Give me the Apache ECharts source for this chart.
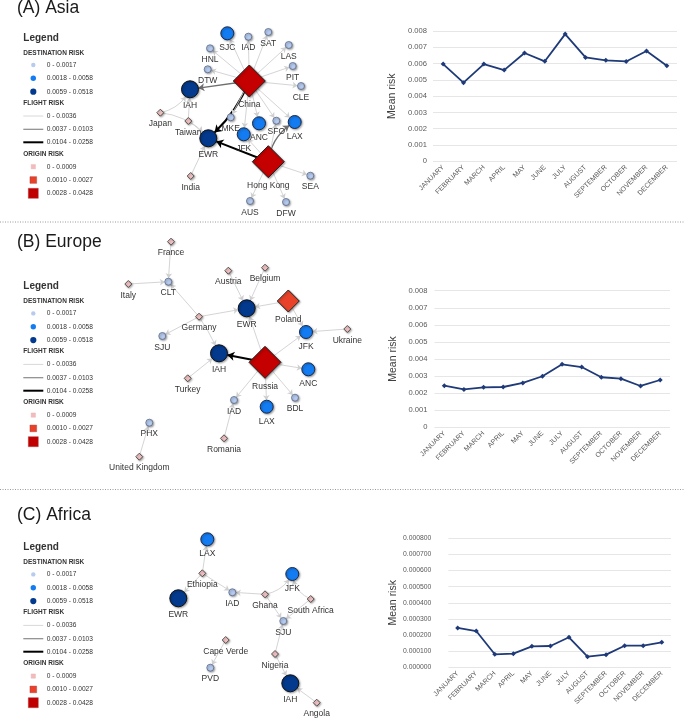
<!DOCTYPE html>
<html>
<head>
<meta charset="utf-8">
<script src="https://cdn.jsdelivr.net/npm/echarts@6/dist/echarts.min.js"></script>
<style>html,body{margin:0;padding:0;background:#fff}#c{width:685px;height:719px}</style>
</head>
<body>
<div id="c"></div>
<script>
// ---------- data ----------
const months = ['JANUARY','FEBRUARY','MARCH','APRIL','MAY','JUNE','JULY','AUGUST','SEPTEMBER','OCTOBER','NOVEMBER','DECEMBER'];
const asiaMeanRisk   = [0.00597,0.00483,0.00597,0.00560,0.00665,0.00614,0.00781,0.00638,0.00620,0.00613,0.00677,0.00587];
const europeMeanRisk = [0.00244,0.00222,0.00234,0.00236,0.00260,0.00299,0.00369,0.00353,0.00293,0.00285,0.00242,0.00277];
const africaMeanRisk = [0.000244,0.000225,0.0000806,0.0000847,0.000130,0.000132,0.000186,0.000066,0.0000785,0.000134,0.000134,0.000155];

const panelTitles = ['(A) Asia','(B) Europe','(C) Africa'];
const destRiskLabels   = ['0 - 0.0017','0.0018 - 0.0058','0.0059 - 0.0518'];
const flightRiskLabels = ['0 - 0.0036','0.0037 - 0.0103','0.0104 - 0.0258'];
const originRiskLabels = ['0 - 0.0009','0.0010 - 0.0027','0.0028 - 0.0428'];

// network nodes: [name, risk class (d = destination, o = origin; 0..2), layout x, layout y]
const asiaNodes = [
  ['China','o2',109.3,61],['Hong Kong','o2',128.3,141.7],['SJC','d1',87.3,13.3],['IAD','d0',108.3,16.7],
  ['SAT','d0',128.3,12],['HNL','d0',70,28.3],['LAS','d0',148.7,25],['DTW','d0',67.7,49.3],
  ['PIT','d0',152.7,46],['CLE','d0',161,66],['IAH','d2',50,69.3],['Japan','o0',20.3,92.7],
  ['Taiwan','o0',48.3,101],['MKE','d0',90.7,97.3],['ANC','d1',119,103.3],['SFO','d0',136.3,100.7],
  ['LAX','d1',154.7,102],['JFK','d1',103.7,114.3],['EWR','d2',68.3,118.3],['India','o0',50.7,156],
  ['SEA','d0',170.3,155.7],['AUS','d0',110,181],['DFW','d0',146,182]
];
// links: [source, target, flight risk class]
const asiaLinks = [
  ['China','SJC',0],['China','IAD',0],['China','SAT',0],['China','HNL',0],['China','LAS',0],['China','DTW',0],
  ['China','PIT',0],['China','CLE',0],['China','IAH',1],['China','EWR',2],['China','MKE',0],['China','JFK',0],
  ['China','ANC',0],['China','SFO',0],['China','LAX',0],
  ['Hong Kong','EWR',2],['Hong Kong','LAX',1],['Hong Kong','SEA',0],['Hong Kong','AUS',0],['Hong Kong','DFW',0],
  ['Hong Kong','SFO',0],['Hong Kong','JFK',0],
  ['Japan','IAH',0],['Japan','EWR',0],['Taiwan','IAH',0],['Taiwan','EWR',0],['India','EWR',0]
];

const europeNodes = [
  ['France','o0',61,11.7],['Italy','o0',18.3,54],['CLT','d0',58.3,51.7],['Austria','o0',118.3,40.7],
  ['Belgium','o0',155,37.7],['EWR','d2',136.7,78.3],['Poland','o1',178.3,71],['Germany','o0',89,86.7],
  ['SJU','d0',52.3,106],['JFK','d1',196,102],['Ukraine','o0',237.3,99],['IAH','d2',109,123.3],
  ['Russia','o2',155,132.3],['ANC','d1',198.3,139.3],['Turkey','o0',77.7,148.3],['IAD','d0',124,170],
  ['LAX','d1',156.7,176.7],['BDL','d0',185,167.7],['PHX','d0',39.3,192.7],['Romania','o0',114,208.3],
  ['United Kingdom','o0',29.3,226.7]
];
const europeLinks = [
  ['France','CLT',0],['Italy','CLT',0],['Germany','CLT',0],['Germany','EWR',0],['Germany','SJU',0],['Germany','IAH',0],
  ['Austria','EWR',0],['Belgium','EWR',0],['Poland','EWR',0],['Poland','JFK',0],['Ukraine','JFK',0],
  ['Russia','EWR',0],['Russia','JFK',0],['Russia','IAH',2],['Russia','ANC',0],['Russia','IAD',0],['Russia','LAX',0],
  ['Russia','BDL',0],['Turkey','IAH',0],['Romania','IAD',0],['United Kingdom','PHX',0]
];

const africaNodes = [
  ['LAX','d1',47.3,9.3],['Ethiopia','o0',42.3,43.3],['EWR','d2',18.3,68.3],['IAD','d0',72.3,62.3],
  ['JFK','d1',132.3,44],['Ghana','o0',105,64.3],['South Africa','o0',150.7,69],['SJU','d0',123.3,91],
  ['Cape Verde','o0',65.7,110],['Nigeria','o0',115,124],['PVD','d0',50.3,137.7],['IAH','d2',130.3,153.3],
  ['Angola','o0',156.7,172.7]
];
const africaLinks = [
  ['Ethiopia','LAX',0],['Ethiopia','EWR',0],['Ethiopia','IAD',0],['Ghana','IAD',0],['Ghana','JFK',0],['Ghana','SJU',0],
  ['South Africa','JFK',0],['South Africa','SJU',0],['Nigeria','SJU',0],['Nigeria','IAH',0],['Angola','IAH',0],
  ['Cape Verde','PVD',0]
];

// ---------- styles ----------
const nodeStyle = {
  d0:{symbol:'circle', size:7,  color:'#b7cbef', border:'#5b6a88'},
  d1:{symbol:'circle', size:13, color:'#137cf2', border:'#1b2a4a'},
  d2:{symbol:'circle', size:17, color:'#033a8e', border:'#111'},
  o0:{symbol:'diamond',size:7,  color:'#f3c3c3', border:'#333'},
  o1:{symbol:'diamond',size:22, color:'#e8432a', border:'#222'},
  o2:{symbol:'diamond',size:32, color:'#c40000', border:'#222'}
};
const edgeStyle = [
  {color:'#cfcfcf', width:0.9, arrow:5},
  {color:'#6e6e6e', width:1.4, arrow:6},
  {color:'#000000', width:2.0, arrow:7}
];
const curved = {'China>EWR':0.12,'Hong Kong>LAX':0.25,'Japan>IAH':-0.25,'Japan>EWR':0.2,'Taiwan>EWR':0.1,
                'Ghana>JFK':-0.25,'South Africa>JFK':0.3,'Germany>IAH':0.05};

// panels: network box (left, top, width, height), line grid
const netBoxes = [[140,20,190,200],[110,230,250,240],[160,530,170,189]];
const lineGrids = [
  {left:433,right:8,top:31,height:130.3,max:0.008,interval:0.001,dec:3,gap:35,margin:6},
  {left:434.5,right:15,top:290.7,height:136.6,max:0.008,interval:0.001,dec:3,gap:36,margin:7},
  {left:448.4,right:14,top:538.3,height:129,max:0.0008,interval:0.0001,dec:6,gap:50,margin:17}
];
const titleY = [8,242,515];
const legendDy = [0,248.4,509.4];

const grids=[], xAxes=[], yAxes=[], series=[], graphics=[];

function graphSeries(nodes, links, gi){
  return {
    type:'graph', coordinateSystem:'cartesian2d', xAxisIndex:gi, yAxisIndex:gi,
    animation:false, silent:true, z:3,
    edgeSymbol:['none','arrow'],
    label:{show:true, position:'bottom', distance:3, fontSize:8.5, color:'#333', fontFamily:'Liberation Sans, Arial, sans-serif'},
    emphasis:{disabled:true},
    data: nodes.map(n=>{
      const s=nodeStyle[n[1]];
      return {name:n[0], value:[n[2],n[3]], symbol:s.symbol, symbolSize:s.size,
        itemStyle:{color:s.color, borderColor:s.border, borderWidth:s.size>10?1:0.8,
          shadowBlur:2, shadowOffsetX:1, shadowOffsetY:1, shadowColor:'rgba(0,0,0,0.35)'}};
    }),
    links: links.map(l=>{
      const e=edgeStyle[l[2]];
      return {source:l[0], target:l[1], symbolSize:[0,e.arrow],
        lineStyle:{color:e.color, width:e.width, opacity:1, curveness:curved[l[0]+'>'+l[1]]||0}};
    })
  };
}

const nets=[[asiaNodes,asiaLinks],[europeNodes,europeLinks],[africaNodes,africaLinks]];
const risks=[asiaMeanRisk,europeMeanRisk,africaMeanRisk];

for(let p=0;p<3;p++){
  const b=netBoxes[p];
  grids.push({left:b[0], top:b[1], width:b[2], height:b[3], containLabel:false});
  xAxes.push({type:'value', gridIndex:2*p, min:0, max:b[2], show:false});
  yAxes.push({type:'value', gridIndex:2*p, min:0, max:b[3], inverse:true, show:false});
  series.push(graphSeries(nets[p][0], nets[p][1], 2*p));

  const g=lineGrids[p];
  grids.push({left:g.left, right:g.right, top:g.top, height:g.height});
  xAxes.push({type:'category', gridIndex:2*p+1, data:months, boundaryGap:true,
    axisLine:{show:false}, axisTick:{show:false},
    axisLabel:{interval:0, rotate:45, fontSize:7, color:'#595959', margin:5, fontFamily:'Liberation Sans, Arial, sans-serif'}});
  yAxes.push({type:'value', gridIndex:2*p+1, min:0, max:g.max, interval:g.interval,
    axisLine:{show:false}, axisTick:{show:false},
    splitLine:{lineStyle:{color:'#e6e6e6', width:1}},
    axisLabel:{fontSize: p===2?6.8:7.6, color:'#595959', margin:g.margin,
      formatter:(v)=> (p<2 && v===0) ? '0' : v.toFixed(g.dec)},
    name:'Mean risk', nameLocation:'middle', nameGap:g.gap,
    nameTextStyle:{fontSize:10.5, color:'#404040', fontFamily:'Liberation Sans Narrow, Liberation Sans, Arial, sans-serif'}});
  series.push({type:'line', xAxisIndex:2*p+1, yAxisIndex:2*p+1, data:risks[p],
    symbol:'diamond', symbolSize:5, showSymbol:true, animation:false, silent:true,
    lineStyle:{color:'#1f3a78', width:1.8}, itemStyle:{color:'#1f3a78'}});

  // title
  graphics.push({type:'text', x:17, y:titleY[p], style:{text:panelTitles[p], fill:'#1a1a1a', fontSize:17.5,
    fontFamily:'Liberation Sans Narrow, Arial Narrow, sans-serif', verticalAlign:'middle'}});

  // legend
  const dy=legendDy[p];
  const T=(x,y,s,size,bold)=>graphics.push({type:'text', x:x, y:y+dy,
    style:{text:s, fill:'#333', fontSize:size, fontWeight:bold?'bold':'normal',
      fontFamily:'Liberation Sans, Arial, sans-serif', verticalAlign:'middle'}});
  T(23.3,38.3,'Legend',10,true);
  T(23.3,53.3,'DESTINATION RISK',6.5,true);
  const cy=[65,78.3,91.7], cr=[2.2,2.7,3.1], cc=['#b7cbef','#137cf2','#033a8e'];
  for(let i=0;i<3;i++){
    graphics.push({type:'circle', shape:{cx:33.3, cy:cy[i]+dy, r:cr[i]}, style:{fill:cc[i]}});
    T(46.7,cy[i],destRiskLabels[i],6.6,false);
  }
  T(23.3,103.3,'FLIGHT RISK',6.5,true);
  const ly=[116,129.3,142.3];
  for(let i=0;i<3;i++){
    graphics.push({type:'line', shape:{x1:23.3,y1:ly[i]+dy,x2:43.3,y2:ly[i]+dy},
      style:{stroke:i===0?'#d8d8d8':(i===1?'#8a8a8a':'#000'), lineWidth:i===0?1:(i===1?1.2:2)}});
    T(46.7,ly[i],flightRiskLabels[i],6.6,false);
  }
  T(23.3,154.3,'ORIGIN RISK',6.5,true);
  const sy=[166.7,180,193.3], ss=[4.3,6.7,10], sc=['#f3bcbc','#e8432a','#c00000'];
  for(let i=0;i<3;i++){
    graphics.push({type:'rect', shape:{x:33.3-ss[i]/2, y:sy[i]+dy-ss[i]/2, width:ss[i], height:ss[i]},
      style:{fill:sc[i], stroke:i===0?'#e8b0b0':'#a33', lineWidth:0.4}});
    T(46.7,sy[i],originRiskLabels[i],6.6,false);
  }
}
// dotted separators
[222,489.5].forEach(y=>graphics.push({type:'line', shape:{x1:0,y1:y,x2:685,y2:y},
  style:{stroke:'#9a9a9a', lineWidth:1, lineDash:[1,1.5]}}));

const chart=echarts.init(document.getElementById('c'),null,{renderer:'canvas'});
chart.setOption({animation:false, backgroundColor:'#fff', grid:grids, xAxis:xAxes, yAxis:yAxes, series:series, graphic:graphics});
</script>
</body>
</html>
